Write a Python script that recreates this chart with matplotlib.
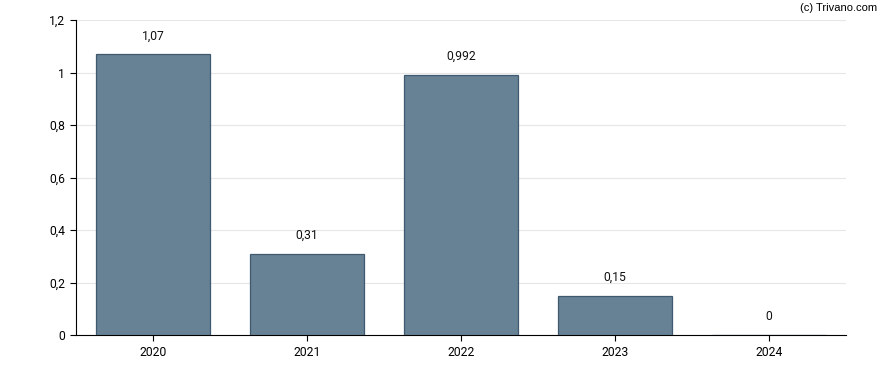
import matplotlib.pyplot as plt

plt.rcParams['font.family'] = ['Roboto', 'DejaVu Sans']

years = ['2020', '2021', '2022', '2023', '2024']
values = [1.07, 0.31, 0.992, 0.15, 0]
labels = ['1,07', '0,31', '0,992', '0,15', '0']
yticks = [0, 0.2, 0.4, 0.6, 0.8, 1.0, 1.2]
yticklabels = ['0', '0,2', '0,4', '0,6', '0,8', '1', '1,2']

fig = plt.figure(figsize=(8.88, 3.7), dpi=100)
ax = fig.add_axes([76 / 888, 1 - 335 / 370, 770 / 888, 315 / 370])

x = range(len(years))
ax.bar(x, values, width=0.74, color='#668294', edgecolor='#3f5a70', linewidth=0.9, zorder=3)

for i, (v, lab) in enumerate(zip(values, labels)):
    ax.annotate(lab, (i, v), xytext=(0, 13), textcoords='offset points',
                ha='center', va='center', fontsize=8.7, color='#111111')

ax.set_xlim(-0.5, 4.5)
ax.set_ylim(0, 1.2)
ax.set_xticks(list(x))
ax.set_xticklabels(years)
ax.set_yticks(yticks)
ax.set_yticklabels(yticklabels)
ax.tick_params(labelsize=8.7, length=4, width=0.8, colors='black', pad=4)
ax.grid(axis='y', color='#e6e6e6', linewidth=0.8, zorder=0)

for s in ['top', 'right']:
    ax.spines[s].set_visible(False)
ax.spines['left'].set_linewidth(0.8)
ax.spines['bottom'].set_linewidth(0.8)

fig.text(877 / 888, 1 - 8 / 370, '(c) Trivano.com', ha='right', va='center', fontsize=8,
         family=['Liberation Sans', 'DejaVu Sans'])

fig.savefig('out.png', dpi=100)
